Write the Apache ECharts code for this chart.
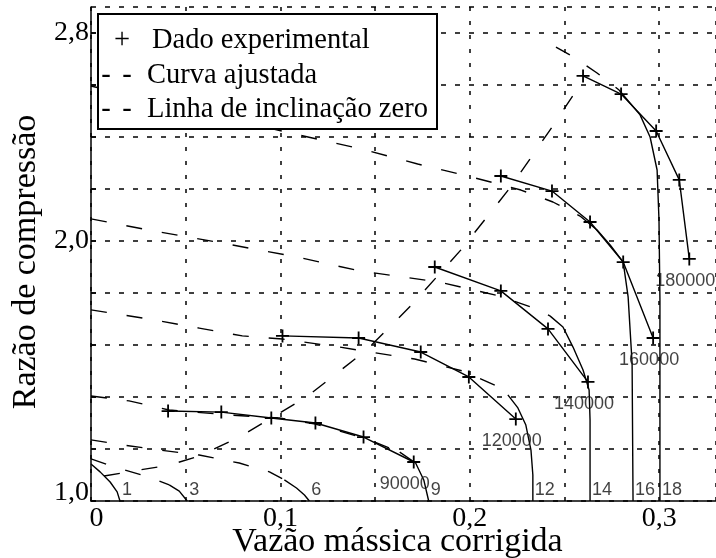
<!DOCTYPE html>
<html>
<head>
<meta charset="utf-8">
<script src="https://cdn.jsdelivr.net/npm/echarts@6/dist/echarts.min.js"></script>
<style>
html,body{margin:0;padding:0;background:#fff;}
#chart{width:716px;height:558px;}
</style>
</head>
<body>
<div id="chart"></div>
<script>
// ---------- data ----------
const xAxisTitle = 'Vazão mássica corrigida';
const yAxisTitle = 'Razão de compressão';
const xTickLabels = ['0', '0,1', '0,2', '0,3'];
const yTickLabels = ['1,0', '2,0', '2,8'];
const legendTexts = ['Dado experimental', 'Curva ajustada', 'Linha de inclinação zero'];

// experimental data (+)
const speedNames = ['180000', '160000', '140000', '120000', '90000'];
const exp180 = [[0.2598,2.635],[0.2799,2.565],[0.2984,2.423],[0.3106,2.235],[0.3159,1.931]];
const exp160 = [[0.2164,2.250],[0.2434,2.192],[0.2635,2.073],[0.2810,1.919],[0.2968,1.627]];
const exp140 = [[0.1815,1.900],[0.2164,1.808],[0.2413,1.662],[0.2624,1.458]];
const exp120 = [[0.1011,1.635],[0.1413,1.627],[0.1741,1.573],[0.1995,1.477],[0.2243,1.315]];
const exp90  = [[0.0407,1.346],[0.0688,1.342],[0.0952,1.319],[0.1185,1.300],[0.1439,1.246],[0.1704,1.150]];

// fitted curves: dashed part and solid extension to the axis
const curveNames = ['18', '16', '14', '12', '9', '6', '3', '1'];
const fitDash180 = [[0.2455,2.746],[0.2556,2.704],[0.2672,2.646],[0.2788,2.581]];
const fitSolid180 = [[0.2788,2.581],[0.2899,2.485],[0.2952,2.400],[0.2989,2.273],[0.2999,2.081],[0.3004,1.773],[0.3004,1.000]];
const fitDash160 = [[0,2.596],[0.0571,2.496],[0.1169,2.396],[0.1450,2.350],[0.1725,2.296],[0.1989,2.250],[0.2270,2.196],[0.2439,2.150],[0.2582,2.096]];
const fitSolid160 = [[0.2582,2.096],[0.2672,2.042],[0.2741,1.985],[0.2810,1.919],[0.2836,1.785],[0.2857,1.531],[0.2862,1.000]];
const fitDash140 = [[0,2.085],[0.0307,2.042],[0.0693,1.992],[0.1090,1.938],[0.1418,1.885],[0.1841,1.842],[0.2159,1.788],[0.2354,1.738],[0.2423,1.712]];
const fitSolid140 = [[0.2423,1.712],[0.2492,1.669],[0.2545,1.592],[0.2598,1.504],[0.2630,1.427],[0.2635,1.312],[0.2635,1.000]];
const fitDash120 = [[0,1.735],[0.0307,1.700],[0.0571,1.665],[0.0799,1.635],[0.1011,1.623],[0.1312,1.592],[0.1709,1.546],[0.1963,1.500],[0.2132,1.446],[0.2201,1.408]];
const fitSolid120 = [[0.2201,1.408],[0.2254,1.358],[0.2296,1.292],[0.2323,1.196],[0.2333,1.100],[0.2333,1.000]];
const fitDash90 = [[0,1.404],[0.0201,1.385],[0.0413,1.350],[0.0730,1.331],[0.0995,1.319],[0.1185,1.296],[0.1471,1.235],[0.1630,1.188]];
const fitSolid90 = [[0.1630,1.188],[0.1714,1.146],[0.1757,1.081],[0.1783,1.000]];
const fitDash60 = [[0,1.235],[0.0175,1.215],[0.0360,1.196],[0.0571,1.177],[0.0783,1.146],[0.0942,1.112],[0.1021,1.081]];
const fitSolid60 = [[0.1021,1.081],[0.1085,1.050],[0.1127,1.023],[0.1153,1.000]];
const fitDash30 = [[0,1.162],[0.0122,1.131],[0.0307,1.092],[0.0413,1.062]];
const fitSolid30 = [[0.0413,1.062],[0.0466,1.038],[0.0508,1.000]];
const fitSolid10 = [[0,1.142],[0.0048,1.112],[0.0101,1.073],[0.0138,1.035],[0.0153,1.000]];

// zero-slope line
const zeroSlope = [[0.0069,1.096],[0.0254,1.119],[0.0413,1.138],[0.0571,1.173],[0.0783,1.246],[0.1138,1.400],[0.1455,1.581],[0.1693,1.754],[0.1952,1.965],[0.2212,2.204],[0.2434,2.438],[0.2571,2.588]];

// ---------- chart ----------
const chart = echarts.init(document.getElementById('chart'), null, {renderer: 'canvas'});
const SERIF = '"Liberation Serif", "Times New Roman", serif';
const SANS = '"Liberation Sans", Arial, sans-serif';
const plusPath = 'path://M4.3,0 H5.7 V4.3 H10 V5.7 H5.7 V10 H4.3 V5.7 H0 V4.3 H4.3 Z';
const LEG_FONT = '28.5px ' + SERIF;

const series = [];
function line(data, dashed, z) {
  series.push({
    type: 'line', data: data, showSymbol: false, symbol: 'none', silent: true,
    smooth: false, z: z || 2,
    lineStyle: {color: '#000', width: 1.4, type: dashed ? [16, 20] : 'solid'},
    animation: false
  });
}
const exps = [exp180, exp160, exp140, exp120, exp90];
exps.forEach(d => {
  series.push({
    type: 'line', data: d, symbol: plusPath, symbolSize: 13, showSymbol: true, silent: true,
    lineStyle: {color: '#000', width: 1.4},
    itemStyle: {color: '#000'}, z: 3, animation: false
  });
});
[[fitDash180, fitSolid180],[fitDash160, fitSolid160],[fitDash140, fitSolid140],[fitDash120, fitSolid120],
 [fitDash90, fitSolid90],[fitDash60, fitSolid60],[fitDash30, fitSolid30],[null, fitSolid10]].forEach(p => {
  if (p[0]) line(p[0], true);
  line(p[1], false);
});
series.push({
  type: 'line', data: zeroSlope, showSymbol: false, symbol: 'none', silent: true,
  lineStyle: {color: '#000', width: 1.4, type: [16, 22]}, z: 2, animation: false
});

// speed labels below the last experimental point
series.push({
  type: 'scatter', symbolSize: 1, itemStyle: {color: 'rgba(0,0,0,0)'}, silent: true, animation: false, z: 4,
  data: exps.map((d, i) => ({
    value: d[d.length - 1],
    label: {show: true, formatter: speedNames[i], position: 'inside', offset: [i === 4 ? -9 : -4, 22],
      color: '#111', fontFamily: SANS, fontSize: 18}
  }))
});
// curve labels at the foot of each fitted curve
const foots = [fitSolid180, fitSolid160, fitSolid140, fitSolid120, fitSolid90, fitSolid60, fitSolid30, fitSolid10];
series.push({
  type: 'scatter', symbolSize: 1, itemStyle: {color: 'rgba(0,0,0,0)'}, silent: true, animation: false, z: 4,
  data: foots.map((d, i) => ({
    value: d[d.length - 1],
    label: {show: true, formatter: curveNames[i], position: 'inside', align: 'left', offset: [2, -11],
      color: '#111', fontFamily: SANS, fontSize: 18}
  }))
});

const option = {
  animation: false,
  backgroundColor: '#fff',
  grid: {left: 91, right: 0, top: 7, bottom: 57, containLabel: false, outerBoundsMode: 'none'},
  xAxis: {
    type: 'value', min: 0, max: 0.33, interval: 0.05,
    name: xAxisTitle, nameLocation: 'middle', nameGap: 24, nameMoveOverlap: false,
    nameTextStyle: {fontFamily: SERIF, fontSize: 34, color: '#000', padding: [0, 12, 0, 0]},
    axisLine: {show: true, onZero: false, lineStyle: {color: '#000', width: 1.5}},
    axisTick: {show: false},
    axisLabel: {
      color: '#000', fontFamily: SERIF, fontSize: 28, margin: 4, showMaxLabel: false,
      formatter: v => {
        const s = (Math.round(v * 100) / 100).toString().replace('.', ',');
        if (!xTickLabels.includes(s)) return '';
        return s === xTickLabels[0] ? '{first|' + s + '}' : s;
      },
      rich: {first: {fontFamily: SERIF, fontSize: 28, color: '#000', padding: [0, 0, 0, 11]}}
    },
    splitLine: {show: true, lineStyle: {color: '#000', width: 1.5, type: [4, 10]}}
  },
  yAxis: {
    type: 'value', min: 1.0, max: 2.9, interval: 0.2,
    name: yAxisTitle, nameLocation: 'middle', nameGap: 40,
    nameTextStyle: {fontFamily: SERIF, fontSize: 34, color: '#000', padding: [0, 16, 0, 0]},
    axisLine: {show: true, onZero: false, lineStyle: {color: '#000', width: 1.5}},
    axisTick: {show: true, inside: true, length: 5, lineStyle: {color: '#000', width: 1.5}},
    axisLabel: {
      color: '#000', fontFamily: SERIF, fontSize: 28, margin: 2, showMaxLabel: false,
      formatter: v => {
        const s = (Math.round(v * 10) / 10).toFixed(1).replace('.', ',');
        if (!yTickLabels.includes(s)) return '';
        return s === yTickLabels[0] ? '{low|' + s + '}' : s;
      },
      rich: {low: {fontFamily: SERIF, fontSize: 28, color: '#000', padding: [0, 0, 16, 0]}}
    },
    splitLine: {show: true, lineStyle: {color: '#000', width: 1.5, type: [5, 9]}}
  },
  graphic: [
    {type: 'rect', z: 100, shape: {x: 98, y: 14, width: 339, height: 115},
      style: {fill: '#fff', stroke: '#000', lineWidth: 2}},
    {type: 'text', z: 101, x: 122, y: 41, style: {text: '+', font: LEG_FONT, fill: '#000', align: 'center', verticalAlign: 'middle'}},
    {type: 'text', z: 101, x: 152, y: 41, style: {text: legendTexts[0], font: LEG_FONT, fill: '#000', align: 'left', verticalAlign: 'middle'}},
    {type: 'text', z: 101, x: 106, y: 76, style: {text: '-', font: LEG_FONT, fill: '#000', align: 'center', verticalAlign: 'middle'}},
    {type: 'text', z: 101, x: 127, y: 76, style: {text: '-', font: LEG_FONT, fill: '#000', align: 'center', verticalAlign: 'middle'}},
    {type: 'text', z: 101, x: 147, y: 76, style: {text: legendTexts[1], font: LEG_FONT, fill: '#000', align: 'left', verticalAlign: 'middle'}},
    {type: 'text', z: 101, x: 106, y: 110, style: {text: '-', font: LEG_FONT, fill: '#000', align: 'center', verticalAlign: 'middle'}},
    {type: 'text', z: 101, x: 127, y: 110, style: {text: '-', font: LEG_FONT, fill: '#000', align: 'center', verticalAlign: 'middle'}},
    {type: 'text', z: 101, x: 147, y: 110, style: {text: legendTexts[2], font: LEG_FONT, fill: '#000', align: 'left', verticalAlign: 'middle'}}
  ],
  series: series
};
chart.setOption(option);
</script>
</body>
</html>
